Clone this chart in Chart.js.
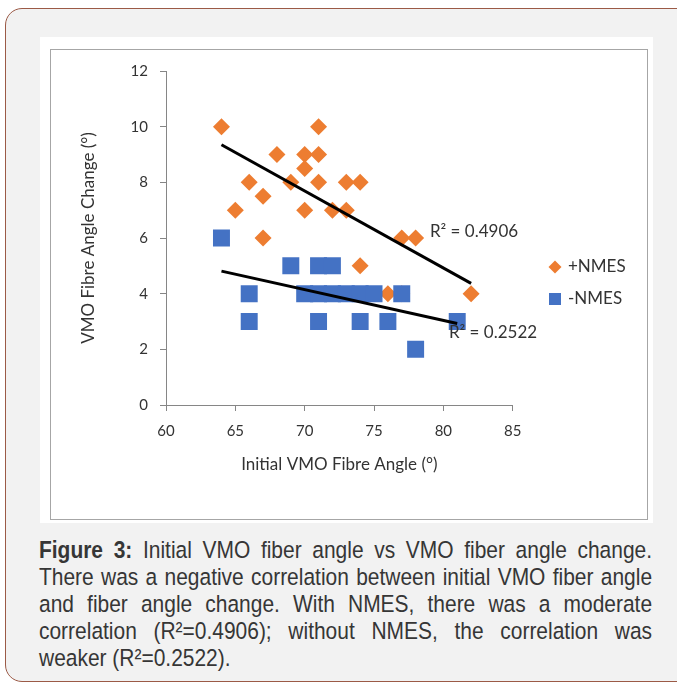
<!DOCTYPE html>
<html>
<head>
<meta charset="utf-8">
<script src="https://cdn.jsdelivr.net/npm/chart.js@4/dist/chart.umd.min.js"></script>
<style>
  html, body { margin: 0; padding: 0; background: #fff; }
  body { width: 677px; height: 683px; position: relative; overflow: hidden; }
  .card {
    position: absolute; left: 5px; top: 8px; width: 720px; height: 674px;
    border: 1px solid #9b5a46; border-radius: 17px; background: #f2f2f2;
    box-sizing: border-box;
  }
  .paper { position: absolute; left: 40px; top: 37px; width: 613px; height: 486px; background: #fff; }
  .frame {
    position: absolute; left: 50px; top: 49px; width: 598px; height: 471px;
    border: 1px solid #a6a6a6; box-sizing: border-box; background: #fff;
  }
  .frame canvas { display: block; }
  .caption {
    position: absolute; left: 39px; top: 536px; width: 717px;
    transform: scaleX(0.855); transform-origin: 0 0;
    font-family: "Liberation Sans", Arial, sans-serif; font-size: 24.5px;
    line-height: 27px; color: #363636;
  }
  .caption div { text-align: justify; text-align-last: justify; }
  .caption div.last { text-align: left; text-align-last: left; }
</style>
</head>
<body>
<div class="card"></div>
<div class="paper"></div>
<div class="frame"><canvas id="vmo" width="596" height="469"></canvas></div>
<div class="caption">
  <div><b>Figure 3:</b> Initial VMO fiber angle vs VMO fiber angle change.</div>
  <div>There was a negative correlation between initial VMO fiber angle</div>
  <div>and fiber angle change. With NMES, there was a moderate</div>
  <div>correlation (R²=0.4906); without NMES, the correlation was</div>
  <div class="last">weaker (R²=0.2522).</div>
</div>
<script>
// points
const plusX = [64, 65, 66, 67, 67, 68, 69, 70, 70, 70, 71, 71, 71, 72, 73, 73, 74, 74, 76, 77, 77, 78, 82];
const plusY = [10, 7, 8, 7.5, 6, 9, 8, 9, 8.5, 7, 10, 9, 8, 7, 8, 7, 8, 5, 4, 6, 4, 6, 4];
const minusX = [64, 69, 71, 72, 66, 70, 71, 72, 73, 74, 75, 77, 66, 71, 74, 76, 81, 78];
const minusY = [6, 5, 5, 5, 4, 4, 4, 4, 4, 4, 4, 4, 3, 3, 3, 3, 3, 2];

// linear trend lines (ends)
const trendPlusX = [64, 82];
const trendPlusY = [9.35, 4.37];
const trendMinusX = [64, 81];
const trendMinusY = [4.81, 2.93];
const r2Text = ["R\u00b2 = 0.4906", "R\u00b2 = 0.2522"];

const seriesNames = ["+NMES", "-NMES"];
const xTicks = [60, 65, 70, 75, 80, 85];
const yTicks = [0, 2, 4, 6, 8, 10, 12];

const ORANGE = "#ed7d31";
const BLUE = "#4472c4";
const TEXT = "#333";
const AXIS = "#868686";

const pts = (xs, ys) => xs.map((x, i) => ({ x: x, y: ys[i] }));

// R² labels next to each trend line
const r2Plugin = {
  id: "r2",
  afterDatasetsDraw(chart) {
    const { ctx, scales } = chart;
    const spots = [[79.03, 6.22], [80.4, 2.59]];
    ctx.save();
    ctx.font = "17px Lato";
    ctx.fillStyle = TEXT;
    ctx.textAlign = "left";
    ctx.textBaseline = "middle";
    r2Text.forEach((t, i) => {
      ctx.fillText(t, scales.x.getPixelForValue(spots[i][0]), scales.y.getPixelForValue(spots[i][1]));
    });
    ctx.restore();
  },
};

// legend on the right, Excel style
const legendPlugin = {
  id: "sideLegend",
  afterDraw(chart) {
    const { ctx, chartArea } = chart;
    const cx = chartArea.right + 42.3;
    const rows = [217, 249];
    ctx.save();
    ctx.font = "17px Lato";
    ctx.textBaseline = "middle";
    ctx.textAlign = "left";
    // diamond
    ctx.fillStyle = ORANGE;
    ctx.beginPath();
    ctx.moveTo(cx, rows[0] - 6.5);
    ctx.lineTo(cx + 6.5, rows[0]);
    ctx.lineTo(cx, rows[0] + 6.5);
    ctx.lineTo(cx - 6.5, rows[0]);
    ctx.closePath();
    ctx.fill();
    // square
    ctx.fillStyle = BLUE;
    ctx.fillRect(cx - 6, rows[1] - 6, 12, 12);
    ctx.fillStyle = TEXT;
    seriesNames.forEach((n, i) => ctx.fillText(n, cx + 13, rows[i]));
    ctx.restore();
  },
};

Chart.defaults.font.family = "Lato";
Chart.defaults.font.size = 15;
Chart.defaults.color = TEXT;

new Chart(document.getElementById("vmo").getContext("2d"), {
  type: "scatter",
  data: {
    datasets: [
      {
        label: "trend +NMES",
        data: pts(trendPlusX, trendPlusY),
        showLine: true,
        borderColor: "#000",
        borderWidth: 3,
        pointRadius: 0,
        order: 0,
      },
      {
        label: "trend -NMES",
        data: pts(trendMinusX, trendMinusY),
        showLine: true,
        borderColor: "#000",
        borderWidth: 3,
        pointRadius: 0,
        order: 0,
      },
      {
        label: seriesNames[1],
        data: pts(minusX, minusY),
        pointStyle: "rect",
        pointRadius: 12,
        backgroundColor: BLUE,
        borderColor: BLUE,
        borderWidth: 0,
        order: 1,
      },
      {
        label: seriesNames[0],
        data: pts(plusX, plusY),
        pointStyle: "rectRot",
        pointRadius: 8.5,
        backgroundColor: ORANGE,
        borderColor: ORANGE,
        borderWidth: 0,
        order: 2,
      },
    ],
  },
  options: {
    responsive: false,
    animation: false,
    events: [],
    layout: { padding: { left: 0, top: 20.5, right: 134.3, bottom: 0 } },
    plugins: { legend: { display: false }, tooltip: { enabled: false } },
    scales: {
      x: {
        type: "linear",
        min: 60,
        max: 85,
        afterBuildTicks: (s) => { s.ticks = xTicks.map((v) => ({ value: v })); },
        afterFit: (s) => { s.height = 114; },
        ticks: { padding: 11, color: TEXT, font: { size: 15 } },
        grid: { drawOnChartArea: false, drawTicks: true, tickLength: 6, color: AXIS },
        border: { display: true, color: AXIS, width: 1 },
        title: {
          display: true,
          text: "Initial VMO Fibre Angle (\u00b0)",
          color: TEXT,
          font: { size: 17 },
          padding: { top: 0, bottom: 43.8 },
        },
      },
      y: {
        min: 0,
        max: 12,
        afterBuildTicks: (s) => { s.ticks = yTicks.map((v) => ({ value: v })); },
        afterFit: (s) => { s.width = 115; },
        ticks: { padding: 12, color: TEXT, font: { size: 15 } },
        grid: { drawOnChartArea: false, drawTicks: true, tickLength: 6, color: AXIS },
        border: { display: true, color: AXIS, width: 1 },
        title: {
          display: true,
          text: "VMO Fibre Angle Change (\u00b0)",
          color: TEXT,
          font: { size: 17 },
          padding: { top: 27.8, bottom: 0 },
        },
      },
    },
  },
  plugins: [r2Plugin, legendPlugin],
});
</script>
</body>
</html>
